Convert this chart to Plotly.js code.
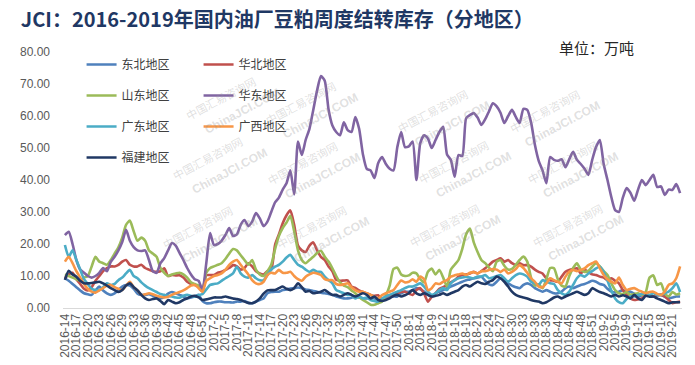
<!DOCTYPE html>
<html><head><meta charset="utf-8">
<script src="https://cdn.plot.ly/plotly-3.0.1.min.js"></script>
<style>html,body{margin:0;padding:0;background:#fff}</style>
</head><body><div id="chart" style="width:695px;height:365px"></div>
<script>
// week labels (categories) – some weeks are absent in the source
function weekLabels(year, from, to, skip) {
  const out = [];
  for (let w = from; w <= to; w++) if (!skip.includes(w)) out.push(year + '-' + w);
  return out;
}
const categories = [].concat(
  weekLabels(2016, 14, 52, [31]),
  weekLabels(2017, 1, 52, []),
  weekLabels(2018, 1, 52, [6, 7]),
  weekLabels(2019, 1, 23, [6])
);
const tickLabels = categories.filter((c, i) => i % 3 === 0);

const seriesNames = ['东北地区', '华北地区', '山东地区', '华东地区', '广东地区', '广西地区', '福建地区'];
const seriesColors = ['#4f81bd', '#c0504d', '#9bbb59', '#8064a2', '#4bacc6', '#f79646', '#203864'];

const dongbei = [
  9.3, 8.5, 7.5, 6.5, 5.5, 4.6, 4.3, 4.1, 5.5, 6.7,
  5.5, 4.6, 4.1, 4.6, 5.6, 6.7, 7.2, 7, 6, 4.5,
  4.1, 4.1, 4.3, 3.8, 3.3, 3, 3.5, 4.5, 5, 4.6,
  4.1, 3.6, 3, 3.3, 3.6, 4.1, 2.2, 1.5, 1.5, 1.8,
  2, 2, 1.8, 1.8, 1.7, 2, 2, 2.2, 1.6, 1.5,
  2, 2.5, 3, 4.6, 5, 5.1, 5.1, 5.6, 5.8, 6.1,
  6.2, 6.4, 6.2, 5.8, 5.6, 5.3, 5.1, 4.8, 4.6, 4.4,
  4.1, 3.6, 3.3, 3, 3, 3.2, 3.6, 3.3, 3, 3,
  3.1, 3, 2, 2.5, 3, 3.6, 3.6, 3.6, 4.6, 5.1,
  5.1, 5.6, 6.2, 5.8, 5.1, 4.1, 3.6, 4.6, 5.1, 5.6,
  6.2, 6.7, 7.2, 7.7, 8.2, 8.7, 8.9, 9.3, 9.5, 9.8,
  8.5, 7.4, 7.2, 8.2, 9.3, 8.7, 7.7, 7, 6.5, 6.2,
  7.2, 7.7, 7.2, 6.2, 5.6, 5.1, 5.6, 5.1, 4.6, 4.6,
  5.1, 6.2, 6.7, 6.2, 6.7, 7.2, 7.5, 8, 8.5, 8.2,
  7.5, 7.2, 6, 5.1, 4.9, 5.1, 5.6, 5, 5.1, 4.4,
  3.6, 4, 4.1, 3.8, 3.6, 3.9, 4.1, 3.5, 3, 3.3,
  3.6, 3.6
];
const huabei = [
  9.3, 10.5, 11, 9, 7.5, 6, 5.5, 6.5, 8.5, 10,
  11.5, 12.5, 13, 13, 13.5, 14.5, 15, 13.5, 13, 13,
  13.5, 12.5, 12, 11.5, 11.3, 11.5, 12.4, 10, 10.3, 10.2,
  10.2, 9.5, 8.2, 7.5, 7.2, 6.7, 5.1, 10.2, 10.3, 10.3,
  11, 11.3, 11.9, 12.5, 13.4, 13, 12, 12.5, 14, 13,
  11.5, 10.8, 10.5, 11.5, 12, 19.7, 23, 26.5, 29, 30.5,
  26, 19.5, 18, 17.5, 19.5, 20.5, 18, 16, 15, 13,
  11.5, 8.8, 8.5, 8.6, 8.6, 6.7, 6.3, 5.5, 5, 4.6,
  4.1, 3.8, 4, 2.5, 3.5, 4, 4.2, 4.6, 5, 5.1,
  4.5, 4.1, 5.6, 6.2, 4.5, 2, 3.5, 4.6, 6, 6.5,
  7.2, 8, 8.7, 9.8, 10.3, 10.5, 10.8, 11.3, 10.8, 11.5,
  12.4, 13.4, 14.5, 15, 15.5, 14.5, 15, 14, 13.4, 14,
  13.4, 13.4, 12.9, 12, 11.3, 10.8, 9.3, 8.7, 8.5, 8.2,
  9.8, 11.3, 11.9, 12.2, 12.4, 10.8, 11.9, 11.3, 10.5, 10.3,
  9.8, 9.5, 8.7, 9.3, 8.5, 7.7, 5.6, 4.1, 3, 2.5,
  2.7, 3, 4.1, 4, 3.6, 4.1, 4.1, 3.6, 2.5, 1.5,
  1.8, 2
];
const shandong = [
  10.5, 10, 9.5, 9, 8.5, 9.5, 10, 13, 16, 14.5,
  14, 13.5, 15, 17, 19, 22, 26, 27.3, 24, 21,
  22, 21, 18, 17, 16, 12.5, 11, 10, 10.5, 10.8,
  11, 10.5, 9.5, 8, 7.5, 7, 5.6, 11, 12.5, 13,
  13.5, 14, 15.3, 17, 18.4, 18, 16.5, 15, 13.5, 15,
  12, 10.5, 10, 11.5, 13.5, 18.4, 22.5, 25, 26.7, 28.8,
  24, 18, 15, 14, 15, 16, 17.2, 17.9, 16, 14.5,
  12.4, 10, 8, 7, 6.5, 5.5, 4.6, 3.5, 2.5, 1.8,
  1, 1, 1.5, 2, 4, 7, 12.2, 12.6, 10.5, 10,
  10.2, 11, 10.8, 9, 8, 11.3, 12.3, 10.5, 11.9, 9.5,
  6.7, 12, 13.5, 15, 18.5, 23, 24.8, 20.5, 17.5, 15,
  14, 12.6, 11.5, 14.5, 15, 13.2, 12, 12.2, 13.5, 15,
  16.1, 14.5, 9.5, 7, 7.4, 6.2, 9, 12.5, 12.4, 9,
  7, 6.7, 10, 12.5, 14, 12, 11.3, 11.6, 12.9, 14,
  13, 11.5, 10.3, 7.7, 5.6, 4.6, 4.4, 5, 4.1, 4.4,
  4.6, 4.1, 5, 9.5, 10.2, 7.2, 7.7, 4.6, 3.6, 5,
  4.2, 4.6
];
const huadong = [
  22.8, 23.8, 20, 15, 12, 11, 10, 9.5, 10, 11,
  12.5, 11.5, 14.4, 16, 18, 20.6, 24.4, 21, 19, 18,
  17.8, 18, 15, 11.5, 11, 14, 15.6, 18, 20.3, 19.5,
  17.2, 15, 12.5, 10.5, 9, 8.5, 5.6, 14, 23.4, 19.7,
  20, 21, 22.8, 25, 22.5, 23, 26, 27.5, 25.6, 27,
  29.7, 28, 25.6, 27, 30, 33, 34.5, 37, 39, 43,
  35.5, 52, 47.8, 52.5, 56, 61.9, 68, 72.5, 71, 62,
  57, 55, 54, 58, 55.6, 55, 59.7, 56, 48, 43.5,
  43, 40.6, 45.3, 47.2, 45, 43.5, 43, 50.3, 55, 50.3,
  50.5, 52, 40, 51.5, 54, 53, 50, 52.5, 55, 56.6,
  48, 46.3, 41, 47.8, 47.5, 59.3, 60.3, 60.9, 59.5, 57.2,
  59, 61.5, 64, 63, 61, 57.8, 60, 61.9, 59.7, 57.8,
  62.2, 61.9, 58, 51, 46, 43, 39, 47.2, 46.3, 46,
  46.5, 44, 46.5, 48.8, 46.3, 45, 43.5, 41.6, 46.3, 50.3,
  52.5, 45, 40, 34.7, 30.6, 30, 34.4, 37.5, 36, 33.5,
  37, 40, 38.4, 40, 41.6, 37.8, 38, 35.3, 37, 36.9,
  38.7, 35.9
];
const guangdong = [
  19.7, 16, 18, 15, 12, 9, 7.5, 6, 5.6, 5.6,
  6.5, 7.7, 7.2, 7.5, 8.7, 9.5, 10.8, 11.9, 10, 9.3,
  8, 7, 6.2, 5.6, 5, 4.4, 4.1, 3.8, 3.6, 3.3,
  3.2, 3.8, 4.1, 3.8, 3.6, 4.1, 4.3, 5.8, 7.2, 7.5,
  7.7, 8.5, 9.3, 10, 10.8, 12.9, 10.8, 9.8, 9.5, 10.3,
  9.3, 8.7, 8.7, 10.3, 12, 12.9, 13.5, 14.5, 15.8, 16.6,
  15, 13.5, 12.9, 12, 11.3, 11.9, 11.3, 11.3, 9.8, 8.7,
  7.7, 5.6, 5.1, 4.6, 4.1, 4.1, 3, 3.6, 3, 3.3,
  2.5, 2.2, 2, 3, 3.6, 4.1, 4.6, 5.1, 5.6, 6.2,
  6.7, 6.7, 7.2, 7.7, 6.7, 5.1, 4.1, 4.6, 5.6, 6.2,
  5.6, 7.7, 8.7, 9.3, 9.5, 9.8, 9.5, 9.3, 9.8, 9.8,
  10.3, 9.3, 9.5, 10, 10.3, 9.3, 8.2, 9.3, 10.3, 10.8,
  10.5, 9.8, 8.2, 7.7, 7.2, 8.7, 8.2, 7.7, 7.5, 5.6,
  4.6, 4.1, 5.1, 7.2, 9.3, 10.3, 9.8, 10.8, 11.5, 12.4,
  12.9, 11.3, 8.5, 5.5, 3, 1.8, 1.5, 2.8, 3.6, 3.6,
  4.1, 4.4, 4.6, 4.1, 4.6, 4.1, 4.1, 4.6, 5.1, 6.2,
  7.7, 5
];
const guangxi = [
  14.5, 16, 14, 11.5, 9.5, 7.5, 6, 5.1, 4.8, 5.5,
  6.2, 7, 7.2, 6.5, 6, 5.6, 7, 8.2, 6.5, 5.5,
  4.1, 4.3, 4.6, 4.3, 3.8, 3.5, 3.3, 3.5, 4.1, 4.6,
  5, 5.5, 6.2, 7, 7.2, 6.2, 5.1, 8.5, 9.3, 10,
  10.3, 10.8, 11.9, 13.5, 14.5, 15, 13.5, 12, 10.5, 8.7,
  7.7, 7.5, 8.2, 10.3, 11, 10.8, 11.9, 11, 11, 11.3,
  10, 9, 8.5, 9.8, 10.5, 11, 10.8, 10.3, 9, 8.7,
  8.7, 7.5, 7.2, 7.4, 7.7, 6.5, 5.6, 5.1, 5.1, 4.6,
  4.1, 3.5, 3, 4, 4.6, 5.1, 5.6, 7.2, 8.6, 8,
  8.2, 9, 8.2, 9.8, 9, 5.6, 6.2, 7.7, 7.5, 8.2,
  8.7, 9.8, 10.2, 10.5, 10.8, 10.3, 11, 11.2, 10.8, 11.5,
  11.5, 11.9, 12.2, 12, 11.3, 12, 10.8, 11.3, 12.2, 13.4,
  12.5, 11, 9.3, 8.2, 6.7, 6.5, 7.7, 9.3, 8.7, 8.2,
  7.7, 9.8, 11.3, 11.9, 11.5, 11.9, 12.4, 13.4, 14, 14.5,
  12.4, 10.3, 9, 8.2, 7.7, 9.5, 7.2, 5.6, 6, 6.2,
  5.6, 5.1, 4.6, 5, 5.1, 4.4, 4.1, 5.1, 7.2, 7.7,
  9.3, 13
];
const fujian = [
  8.8, 11.6, 10.5, 9.8, 8.5, 7.7, 7.7, 7.8, 8, 8.2,
  7.7, 7, 6.2, 5.6, 5, 5.6, 7, 7.7, 6.5, 5.5,
  4.1, 3, 2.5, 2.8, 3, 2.2, 1.2, 2.5, 2, 1.5,
  1.8, 2.5, 3, 3.6, 3.8, 3.3, 2.5, 2.7, 3, 3.3,
  3.3, 3.3, 3.6, 3.3, 3, 2.8, 2.5, 2, 1.6, 1.5,
  2, 3, 4.5, 5.5, 5.6, 5.6, 6.2, 6.7, 6, 5.6,
  6.2, 7.7, 6.5, 5.1, 5.3, 4.6, 4.8, 5.1, 5.6, 4.8,
  4.1, 4.1, 3.6, 4.1, 4.6, 4.1, 3.6, 4.1, 4.6, 4.1,
  3, 3.6, 2.5, 2.2, 2.5, 3, 3.8, 4.1, 3.6, 4,
  4.6, 5.6, 4.6, 4.1, 4.6, 4.1, 3.6, 3.8, 4.1, 4.6,
  4.1, 4.6, 5.1, 5.6, 6.7, 7.2, 6.7, 7.5, 8.2, 7.7,
  7.5, 8.2, 8.7, 9.8, 9.3, 8.2, 6.7, 5.1, 4.1, 3.6,
  3.3, 3, 2.5, 2.2, 2, 1.5, 1.8, 2.5, 3.3, 3.6,
  3, 3.6, 4.1, 4.6, 5.1, 4.6, 4.1, 4.6, 6.2, 5.6,
  5, 4.6, 4.1, 3.6, 4.1, 3.6, 4, 3.6, 3, 4.1,
  3, 2.5, 3.8, 3.5, 3.6, 3, 2.5, 2, 1.5, 1.8,
  1.8, 1.8
];
const seriesValues = [dongbei, huabei, shandong, huadong, guangdong, guangxi, fujian];
const legendOf = ['legend', 'legend2', 'legend', 'legend2', 'legend', 'legend2', 'legend'];

const traces = seriesNames.map((name, k) => ({
  type: 'scatter', mode: 'lines', name: name,
  x: categories, y: seriesValues[k],
  line: {color: seriesColors[k], width: 2.6, shape: 'spline', smoothing: 0.6},
  legend: legendOf[k], legendgroup: 'g' + k,
  hoverinfo: 'x+y+name'
}));

// faint watermark text
const wmPos = [[180, 70], [300, 75], [432, 83], [585, 83],
               [167, 158], [302, 163], [453, 162], [603, 162],
               [157, 255], [311, 255], [485, 253], [608, 253]];
const wmAnn = [];
wmPos.forEach(p => {
  wmAnn.push({xref: 'paper', yref: 'paper', x: (p[0] - 63) / 619, y: (308 - p[1]) / 256,
    text: '中国汇易咨询网', showarrow: false, textangle: -28,
    font: {family: 'Noto Sans CJK SC', size: 11, color: 'rgba(150,150,150,0.30)'}});
  wmAnn.push({xref: 'paper', yref: 'paper', x: (p[0] + 20 - 63) / 619, y: (308 - p[1] - 13) / 256,
    text: 'ChinaJCI.COM', showarrow: false, textangle: -28,
    font: {family: 'Liberation Sans', size: 12, weight: 'bold', color: 'rgba(150,150,150,0.30)'}});
});

const legendCommon = {
  xanchor: 'left', yanchor: 'top', bgcolor: 'rgba(0,0,0,0)', borderwidth: 0,
  font: {family: 'Noto Sans CJK SC', size: 12, color: '#404040'},
  traceorder: 'grouped', tracegroupgap: 12, itemwidth: 30
};

const layout = {
  width: 695, height: 365,
  margin: {l: 63, r: 13, t: 52, b: 57},
  paper_bgcolor: '#ffffff', plot_bgcolor: '#ffffff',
  font: {family: 'Liberation Sans, Arial, sans-serif', color: '#595959'},
  title: {
    text: 'JCI：2016-2019年国内油厂豆粕周度结转库存（分地区）',
    font: {family: 'Noto Sans CJK SC', size: 20, weight: 'bold', color: '#1f3864'},
    xref: 'container', yref: 'container', x: 0.03, xanchor: 'left', y: 0.945, yanchor: 'middle'
  },
  showlegend: true,
  legend: Object.assign({x: 0.03, y: 1.008}, legendCommon),
  legend2: Object.assign({x: 0.219, y: 1.008}, legendCommon),
  xaxis: {
    type: 'category', categoryorder: 'array', categoryarray: categories,
    range: [-0.5, categories.length - 0.5],
    tickmode: 'array', tickvals: tickLabels, ticktext: tickLabels,
    tickangle: -90, tickfont: {size: 12, color: '#595959'},
    showline: true, linecolor: '#d9d9d9', linewidth: 1,
    showgrid: false, zeroline: false, ticks: '', automargin: false
  },
  yaxis: {
    range: [0, 80], dtick: 10, tickformat: '.2f',
    showgrid: false, zeroline: false, showline: false, ticks: '',
    tickfont: {size: 12, color: '#595959'}, ticklabelstandoff: 12, automargin: false
  },
  annotations: wmAnn.concat([{
    xref: 'paper', yref: 'paper', x: (557 - 63) / 619, y: 1 + (52 - 47) / 256,
    xanchor: 'left', yanchor: 'middle', showarrow: false, text: '单位：万吨',
    font: {family: 'Noto Sans CJK SC', size: 15, color: '#262626'}
  }])
};

Plotly.newPlot('chart', traces, layout, {displayModeBar: false, staticPlot: true});
</script></body></html>
